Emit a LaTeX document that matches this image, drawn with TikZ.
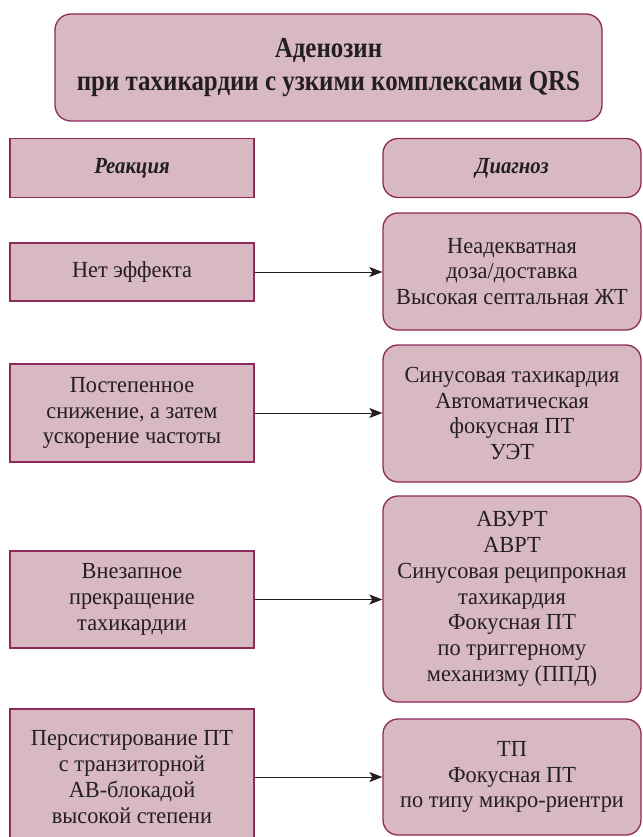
\documentclass[tikz,border=0pt]{standalone}
\usepackage{fontspec}
\setmainfont{Liberation Serif}[FakeStretch=0.97]
\newfontfamily\titlefont{Liberation Serif}[FakeStretch=0.86]
\newfontfamily\headfamily{Liberation Serif}[FakeStretch=0.9]
\usetikzlibrary{arrows.meta}
\definecolor{boxfill}{HTML}{D8B8C1}
\definecolor{boxline}{HTML}{8E2A5C}
\definecolor{ink}{HTML}{231F20}
\tikzset{
  basebox/.style={draw=boxline, fill=boxfill, line width=1.3pt, align=center,
    inner sep=0pt, font=\fontsize{23}{25.8}\selectfont, text=ink},
  reacbox/.style={basebox, minimum width=244pt},
  diagbox/.style={basebox, rounded corners=15pt, minimum width=258pt},
  titlebox/.style={basebox, rounded corners=16pt, minimum width=547pt, minimum height=107pt,
    font=\titlefont\fontsize{29}{33}\selectfont\bfseries},
  headfont/.style={font=\headfamily\fontsize{23}{26}\selectfont\bfseries\itshape},
  arr/.style={-{Stealth[length=13pt,width=10pt,inset=3pt]}, line width=1pt, ink}
}
\begin{document}
\begin{tikzpicture}[x=1pt,y=-1pt]
\useasboundingbox (0,0) rectangle (642,837);
\node[titlebox] (title) at (328.5,67.5) {Аденозин\\при тахикардии с узкими комплексами QRS};
\node[reacbox, headfont, minimum height=59pt] (hr) at (132,168) {Реакция};
\node[diagbox, headfont, minimum height=59pt] (hd) at (512,168) {Диагноз};

\node[reacbox, minimum height=58pt] (l1) at (132,272) {Нет эффекта};
\node[diagbox, minimum height=117pt] (d1) at (512,271.5) {Неадекватная\\доза/доставка\\Высокая септальная ЖТ};

\node[reacbox, minimum height=98pt] (l2) at (132,413) {Постепенное\\снижение, а затем\\ускорение частоты};
\node[diagbox, minimum height=137pt] (d2) at (512,413.5) {Синусовая тахикардия\\Автоматическая\\фокусная ПТ\\УЭТ};

\node[reacbox, minimum height=97pt] (l3) at (132,599.5) {Внезапное\\прекращение\\тахикардии};
\node[diagbox, minimum height=206pt] (d3) at (512,599) {АВУРТ\\АВРТ\\Синусовая реципрокная\\тахикардия\\Фокусная ПТ\\по триггерному\\механизму (ППД)};

\node[reacbox, minimum height=136pt] (l4) at (132,777) {Персистирование ПТ\\с транзиторной\\АВ-блокадой\\высокой степени};
\node[diagbox, minimum height=116pt] (d4) at (512,777) {ТП\\Фокусная ПТ\\по типу микро-риентри};

\draw[arr] (l1.east) -- (l1.east -| d1.west);
\draw[arr] (l2.east) -- (l2.east -| d2.west);
\draw[arr] (l3.east) -- (l3.east -| d3.west);
\draw[arr] (l4.east) -- (l4.east -| d4.west);
\end{tikzpicture}
\end{document}
